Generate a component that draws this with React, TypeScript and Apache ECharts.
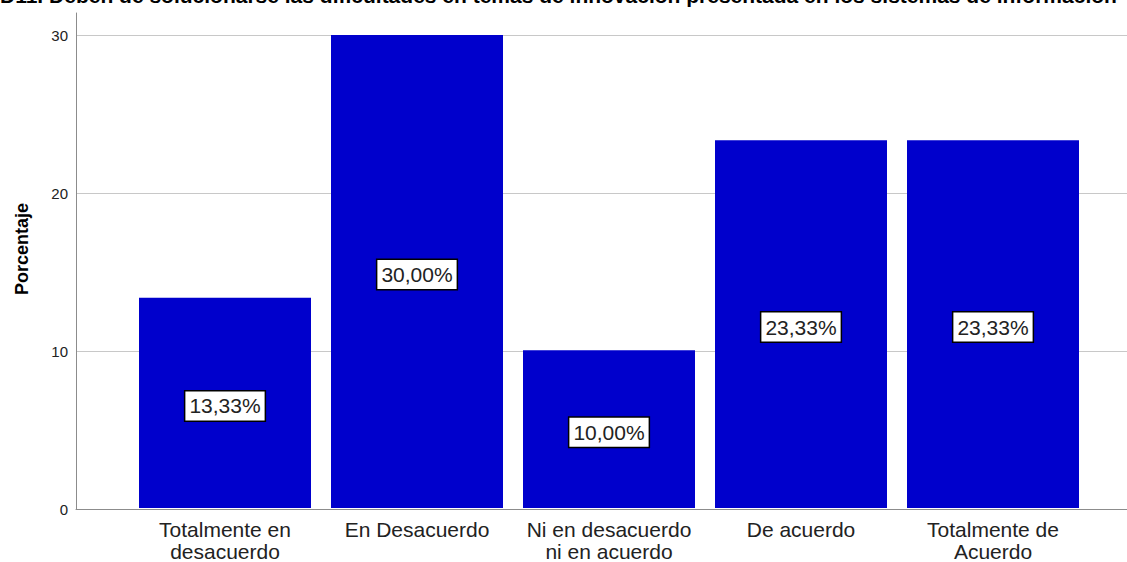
import React, { useEffect, useRef } from "react";
import * as echarts from "echarts";

const categories = [
  "Totalmente en\ndesacuerdo",
  "En Desacuerdo",
  "Ni en desacuerdo\nni en acuerdo",
  "De acuerdo",
  "Totalmente de\nAcuerdo",
];
const percentages = [13.33, 30.0, 10.0, 23.33, 23.33];
const yTicks = [0, 10, 20, 30];
const titleText =
  "D11. Deben de solucionarse las dificultades en temas de innovación presentada en los sistemas de información";

const FONT = "Arial, 'Liberation Sans', sans-serif";
const fmtPct = (v: number) => v.toFixed(2).replace(".", ",") + "%";

export default function App() {
  const ref = useRef<HTMLDivElement>(null);
  useEffect(() => {
    if (!ref.current) return;
    const chart = echarts.init(ref.current, undefined, { renderer: "svg" });
    const yMax = 31.4;
    const gridTop = 13;
    const gridBottom = 53;
    chart.setOption({
      animation: false,
      backgroundColor: "#ffffff",
      graphic: [
        {
          type: "text",
          left: 0,
          top: -15,
          style: {
            text: titleText,
            font: "bold 21px " + FONT,
            fill: "#000",
          },
        },
        {
          type: "text",
          x: 22,
          y: 249,
          rotation: Math.PI / 2,
          style: {
            text: "Porcentaje",
            font: "bold 18px " + FONT,
            fill: "#000",
            align: "center",
            verticalAlign: "middle",
          },
        },
      ],
      grid: [
        { left: 76, right: 0, top: gridTop, bottom: gridBottom },
        { left: 129, right: 38, top: gridTop, bottom: gridBottom },
      ],
      xAxis: [
        {
          type: "value",
          gridIndex: 0,
          min: 0,
          max: 1,
          axisLine: { show: true, lineStyle: { color: "#8c8c8c", width: 1 } },
          axisTick: { show: false },
          axisLabel: { show: false },
          splitLine: { show: false },
        },
        {
          type: "category",
          gridIndex: 1,
          data: categories,
          axisLine: { show: false },
          axisTick: { show: false },
          axisLabel: {
            color: "#222",
            fontSize: 21,
            fontFamily: FONT,
            lineHeight: 22,
            margin: 10,
            interval: 0,
          },
        },
      ],
      yAxis: [
        {
          type: "value",
          gridIndex: 0,
          min: 0,
          max: yMax,
          interval: 10,
          axisLine: { show: true, lineStyle: { color: "#8c8c8c", width: 1 } },
          axisTick: { show: false },
          axisLabel: {
            color: "#222",
            fontSize: 15,
            fontFamily: FONT,
            margin: 8,
            showMaxLabel: false,
            formatter: (v: number) => (yTicks.includes(v) ? String(v) : ""),
          },
          splitLine: {
            show: true,
            showMaxLine: false,
            lineStyle: { color: "#c8c8c8", width: 1 },
          },
        },
        {
          type: "value",
          gridIndex: 1,
          min: 0,
          max: yMax,
          show: false,
          splitLine: { show: false },
        },
      ],
      series: [
        {
          type: "bar",
          xAxisIndex: 1,
          yAxisIndex: 1,
          data: percentages,
          barWidth: 172,
          itemStyle: { color: "#0000CC" },
          label: {
            show: true,
            position: "inside",
            offset: [0, 3],
            formatter: (p: any) => fmtPct(p.value),
            color: "#222",
            fontSize: 21,
            fontFamily: FONT,
            backgroundColor: "#ffffff",
            borderColor: "#000",
            borderWidth: 1.5,
            padding: [5, 4, 3, 4],
          },
        },
      ],
    });
    return () => chart.dispose();
  }, []);
  return (
    <div
      ref={ref}
      style={{ position: "fixed", left: 0, top: 0, width: 1127, height: 562 }}
    />
  );
}
